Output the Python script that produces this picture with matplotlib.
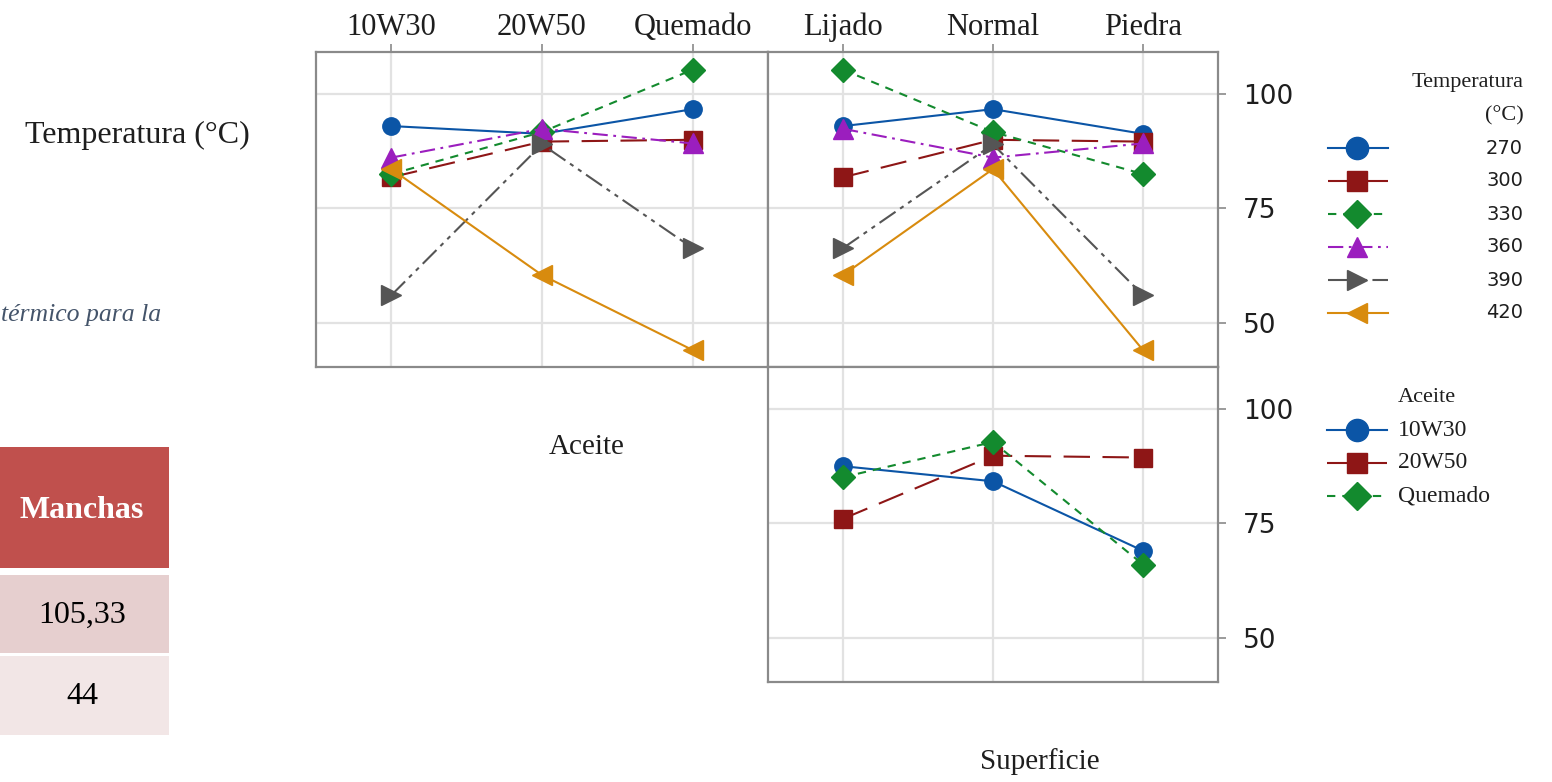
import numpy as np
import matplotlib
matplotlib.use('Agg')
import matplotlib.pyplot as plt
from matplotlib.patches import Rectangle

##################################################################
matplotlib.rcParams.update({'font.family': 'Liberation Serif', 'lines.scale_dashes': False})
W, H = 1552, 782

def box(x0, y0, x1, y1):
    # pixel box (top-left origin) -> figure fraction
    return [x0 / W, 1 - y1 / H, (x1 - x0) / W, (y1 - y0) / H]

##################################################################
aceite = ['10W30', '20W50', 'Quemado']
superficie = ['Lijado', 'Normal', 'Piedra']
temperaturas = ['270', '300', '330', '360', '390', '420']

# medias de Manchas por Temperatura (filas) x Aceite
temp_aceite = [[93.0, 91.3, 96.7],
               [81.8, 89.6, 90.0],
               [82.5, 91.7, 105.33],
               [86.1, 92.4, 89.2],
               [56.0, 89.0, 66.3],
               [83.6, 60.4, 44.0]]
# medias por Temperatura (filas) x Superficie
temp_superficie = [[93.0, 96.7, 91.3],
                   [81.8, 90.0, 89.6],
                   [105.33, 91.7, 82.5],
                   [92.4, 86.1, 89.2],
                   [66.3, 89.0, 56.0],
                   [60.4, 83.6, 44.0]]
# medias por Aceite (filas) x Superficie
aceite_superficie = [[87.5, 84.2, 69.0],
                     [76.0, 89.8, 89.4],
                     [85.1, 92.8, 66.0]]

tabla_titulo = 'Manchas'
tabla_valores = ['105,33', '44']

##################################################################
colores = ['#0B55A6', '#8E1616', '#138A2E', '#9B1EBE', '#555555', '#D88B0E']
marcadores = ['o', 's', 'D', '^', '>', '<']
msizes = [12.5, 12.5, 12, 14, 14, 14]
leg_ms = [16, 15, 14, 15, 15, 15]
trazos = ['-', (0, (19, 9)), (0, (6, 5)), (0, (11, 4, 2, 4)), (0, (14, 4, 3, 4, 3, 4)), '-']

grid_c = '#E2E2E2'
spine_c = '#8A8A8A'
txt_c = '#1E1E1E'
ylim = (40.3, 109.2)

def estilo(ax, top_labels=None, right_labels=False):
    ax.set_xlim(-0.5, 2.5)
    ax.set_ylim(*ylim)
    ax.set_xticks(range(3))
    ax.set_yticks([50, 75, 100])
    ax.grid(True, color=grid_c, lw=1.6, zorder=0)
    for s in ax.spines.values():
        s.set_color(spine_c)
        s.set_linewidth(1.6)
    ax.tick_params(which='both', bottom=False, left=False, labelbottom=False, labelleft=False,
                   top=top_labels is not None, labeltop=top_labels is not None,
                   right=right_labels, labelright=right_labels,
                   length=6, width=1.2, color=spine_c, pad=1)
    if top_labels is not None:
        ax.set_xticklabels(top_labels, fontsize=22, color=txt_c)
    if right_labels:
        for t in ax.get_yticklabels():
            t.set_fontsize(19)
            t.set_family('DejaVu Sans')
            t.set_color(txt_c)
        ax.tick_params(axis='y', pad=12)

def serie(ax, vals, i):
    ax.plot(range(3), vals, color=colores[i], ls=trazos[i], lw=1.5, marker=marcadores[i],
            ms=msizes[i], mec=colores[i], zorder=3)

plt.close('all')
fig = plt.figure(figsize=(W / 100, H / 100), dpi=100)

ax1 = fig.add_axes(box(316, 52, 768, 367))
ax2 = fig.add_axes(box(768, 52, 1218, 367))
ax3 = fig.add_axes(box(768, 367, 1218, 682))

for i in range(len(temperaturas)):
    serie(ax1, temp_aceite[i], i)
    serie(ax2, temp_superficie[i], i)
for i in range(len(aceite)):
    serie(ax3, aceite_superficie[i], i)

estilo(ax1, top_labels=aceite)
estilo(ax2, top_labels=superficie, right_labels=True)
estilo(ax3, right_labels=True)

##################################################################
# capa en pixeles para textos, leyendas y fragmento de tabla
ov = fig.add_axes([0, 0, 1, 1], zorder=-1)
ov.set_xlim(0, W)
ov.set_ylim(H, 0)
ov.axis('off')

ov.text(137, 135, 'Temperatura (°C)', fontsize=23, color=txt_c, ha='center', va='center')
ov.text(587, 447, 'Aceite', fontsize=21, color=txt_c, ha='center', va='center')
ov.text(1040, 762, 'Superficie', fontsize=21, color=txt_c, ha='center', va='center')
ov.text(1, 315, 'térmico para la', fontsize=18.5, style='italic', color='#44546A', ha='left', va='center')

ov.add_patch(Rectangle((0, 447), 169, 121, color='#C0504D', lw=0))
ov.add_patch(Rectangle((0, 575), 169, 78, color='#E6CFCF', lw=0))
ov.add_patch(Rectangle((0, 656), 169, 79, color='#F2E6E6', lw=0))
ov.text(82, 511, tabla_titulo, fontsize=23, weight='bold', color='white', ha='center', va='center')
ov.text(82, 615, tabla_valores[0], fontsize=23, color='black', ha='center', va='center')
ov.text(82, 697, tabla_valores[1], fontsize=23, color='black', ha='center', va='center')

# leyenda Temperatura
ov.text(1524, 83, 'Temperatura', fontsize=16, color=txt_c, ha='right', va='center')
ov.text(1524, 116, '(°C)', fontsize=16, color=txt_c, ha='right', va='center')
for i, t in enumerate(temperaturas):
    y = 148 + 33 * i
    ov.plot([1328, 1388], [y, y], color=colores[i], ls=trazos[i], lw=1.5)
    ov.plot([1357], [y], color=colores[i], marker=marcadores[i], ms=leg_ms[i])
    ov.text(1523, y, t, fontsize=14, family='DejaVu Sans', color=txt_c, ha='right', va='center')

# leyenda Aceite
ov.text(1398, 398, 'Aceite', fontsize=16, color=txt_c, ha='left', va='center')
for i, a in enumerate(aceite):
    y = 430 + 33 * i
    ov.plot([1327, 1387], [y, y], color=colores[i], ls=trazos[i], lw=1.5)
    ov.plot([1357], [y], color=colores[i], marker=marcadores[i], ms=leg_ms[i])
    ov.text(1398, y, a, fontsize=17, color=txt_c, ha='left', va='center')

fig.savefig('out.png', dpi=100)
